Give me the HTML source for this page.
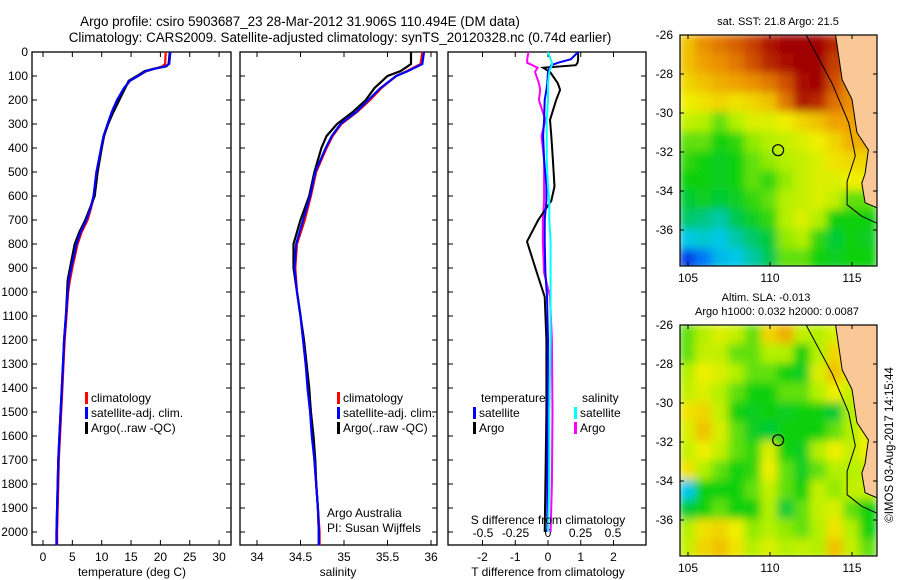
<!DOCTYPE html>
<html><head><meta charset="utf-8"><style>
body{margin:0;background:#fff}
svg{display:block;font-family:"Liberation Sans",sans-serif}
</style></head><body>
<svg id="c" width="900" height="580" viewBox="0 0 900 580" xmlns="http://www.w3.org/2000/svg">
<rect width="900" height="580" fill="#fff"/>
<text x="300" y="26" font-size="13.4" text-anchor="middle">Argo profile: csiro 5903687_23 28-Mar-2012 31.906S 110.494E (DM data)</text>
<text x="340" y="42" font-size="13.4" text-anchor="middle">Climatology: CARS2009. Satellite-adjusted climatology: synTS_20120328.nc (0.74d earlier)</text>
<g id="g"></g>
</svg>
<script>
// ---- data ----
const depthTicks=[0,100,200,300,400,500,600,700,800,900,1000,1100,1200,1300,1400,1500,1600,1700,1800,1900,2000];
const tDepths=[0,50,60,70,80,100,120,150,200,250,300,350,400,500,600,650,700,750,800,900,950,1000,1100,1200,1300,1400,1500,1600,1700,1800,1900,2000,2055];
const tClim=[20.9,20.8,20.3,19,17.6,16.2,14.8,13.9,12.8,11.8,11.0,10.4,10.0,9.3,8.7,8.2,7.6,6.6,5.9,5.0,4.6,4.3,4.0,3.7,3.5,3.3,3.1,2.9,2.7,2.6,2.5,2.4,2.4];
const tSat=[21.7,21.5,20.8,19,17.5,16.2,14.8,13.8,12.6,11.7,11.0,10.3,9.9,9.1,8.6,8.1,7.4,6.4,5.7,4.8,4.4,4.2,3.9,3.6,3.4,3.2,3.0,2.8,2.6,2.5,2.4,2.3,2.3];
const tArgo=[21.6,21.4,21.0,18.8,17.3,16.0,14.6,14.0,13.0,12.0,11.1,10.4,10.0,9.3,8.8,8.0,7.2,6.2,5.4,4.6,4.2,4.1,3.9,3.6,3.4,3.2,3.0,2.8,2.6,2.5,2.4,2.3,2.3];
const tTicks=[0,5,10,15,20,25,30];
const sDepths=[0,50,80,100,150,200,250,300,350,400,500,600,700,800,900,1000,1100,1200,1300,1400,1500,1600,1700,1800,1900,2000,2055];
const sClim=[35.9,35.88,35.72,35.6,35.43,35.3,35.15,34.97,34.87,34.8,34.68,34.62,34.55,34.46,34.44,34.46,34.5,34.53,34.56,34.59,34.62,34.64,34.66,34.68,34.7,34.72,34.72];
const sSat=[35.92,35.9,35.73,35.6,35.42,35.28,35.14,34.96,34.86,34.79,34.67,34.61,34.53,34.45,34.43,34.46,34.5,34.53,34.56,34.58,34.61,34.63,34.66,34.68,34.7,34.71,34.71];
const sArgo=[35.77,35.77,35.65,35.5,35.35,35.25,35.1,34.92,34.8,34.74,34.66,34.6,34.5,34.42,34.42,34.46,34.5,34.54,34.57,34.6,34.62,34.65,34.67,34.68,34.7,34.71,34.71];
const sTicks=[34,34.5,35,35.5,36];
const dDepths=[0,30,45,55,66,83,130,158,200,283,350,450,560,620,700,790,920,1020,1200,1500,1800,2000];
const tDiffArgo=[.92,.92,.9,.85,-.15,.06,.3,.37,.25,.06,.1,.15,.2,.1,-.3,-.64,-.34,-.1,-.05,-.05,-.08,-.1];
const tDiffSat=[.92,.7,.3,.1,.05,0,-.02,-.05,-.1,-.12,-.15,-.12,-.05,-.05,-.1,-.1,-.08,-.03,0,-.01,-.02,-.02];
const sDiffSat=[0,.02,.03,.03,.02,.01,0,0,0,-.01,-.01,-.01,0,.01,.01,.02,.02,.02,.02,.01,.01,0];
const sDiffArgo=[-.15,-.16,-.16,-.12,-.08,-.1,-.07,-.06,-.07,-.02,-.05,-.03,-.03,-.03,-.04,-.04,-.03,.015,.03,.035,.03,.02];
const tdTicks=[-2,-1,0,1,2];
const sdTicks=[-0.5,-0.25,0,0.25,0.5];
const sdTickLabels=["-0.5","-0.25","0","0.25","0.5"];
const latTicks=[-26,-28,-30,-32,-34,-36];
const lonTicks=[105,110,115];
const sstGrid=[
[.75,.82,.85,.88,.92,.97,1,1,1,.95,-1,-1],
[.75,.8,.82,.85,.9,.95,.98,1,1,.92,-1,-1],
[.72,.75,.78,.8,.82,.85,.9,.98,1,.9,.82,-1],
[.68,.7,.72,.7,.72,.75,.85,.97,.95,.86,.82,-1],
[.62,.6,.55,.6,.65,.65,.68,.72,.75,.8,.8,-1],
[.55,.55,.5,.52,.58,.6,.62,.65,.68,.72,.78,-1],
[.52,.5,.48,.5,.55,.58,.6,.62,.65,.7,.72,-1],
[.5,.5,.48,.5,.55,.52,.58,.62,.65,.65,.68,-1],
[.45,.48,.45,.48,.52,.55,.6,.62,.65,.62,.55,.55],
[.4,.38,.35,.42,.48,.52,.6,.65,.6,.5,.5,.5],
[.3,.32,.3,.35,.4,.45,.58,.6,.52,.45,.5,.48],
[.12,.2,.28,.3,.35,.42,.55,.55,.5,.48,.5,.5]];
const slaGrid=[
[.55,.6,.65,.62,.55,.72,.78,.62,.6,.65,.68,-1],
[.55,.62,.62,.55,.55,.6,.6,.5,.6,.72,.68,-1],
[.6,.68,.65,.6,.55,.55,.5,.48,.65,.75,.68,-1],
[.62,.65,.6,.55,.5,.5,.55,.55,.6,.68,.62,.68],
[.7,.72,.62,.5,.48,.5,.48,.5,.5,.45,.6,.68],
[.65,.75,.65,.55,.48,.45,.5,.5,.5,.55,.6,.68],
[.62,.68,.62,.55,.52,.65,.5,.48,.6,.68,.62,.68],
[.7,.6,.55,.5,.52,.68,.55,.48,.55,.6,.6,.62],
[.3,.5,.5,.5,.55,.62,.55,.5,.62,.58,.62,.62],
[.45,.5,.55,.5,.5,.6,.45,.55,.62,.65,.55,.5],
[.6,.7,.72,.68,.58,.6,.58,.55,.6,.7,.6,.5],
[.62,.72,.75,.7,.6,.65,.6,.62,.6,.75,.62,.55]];
const landLon=[114.0,114.4,115.0,115.3,116.0,115.8,115.6,115.8,116.9];
const landLat=[-26,-28.3,-29.3,-31,-31.9,-33.1,-33.6,-34.6,-35];
const shelfLon=[112.2,113.8,114.8,115.2,114.7,114.7,115.6,116.9];
const shelfLat=[-26,-28.5,-30.5,-32.2,-33.5,-34.7,-35.3,-35.8];
const argoLon=110.494, argoLat=-31.906;

// ---- helpers ----
const NS="http://www.w3.org/2000/svg", G=document.getElementById('g');
function el(t,a,p){const e=document.createElementNS(NS,t);for(const k in a)e.setAttribute(k,a[k]);(p||G).appendChild(e);return e;}
const yD=d=>52+d*0.24;
const P1={x0:32,x1:231}, P2={x0:240,x1:437}, P3={x0:448,x1:646}, PT=52, PB=545;
const xT=v=>43+v*5.87, xS=v=>257+(v-34)*87, xTD=v=>548+v*32.75, xSD=v=>548+v*130;

function frame(P,name){
  const r=el('rect',{x:P.x0,y:PT,width:P.x1-P.x0,height:PB-PT,fill:'none',stroke:'#000','stroke-width':1.3});
  
  
}
function profile(xs,ys,fx,color,name,w){
  let d='';xs.forEach((v,i)=>{d+=(i?'L':'M')+fx(v).toFixed(1)+','+yD(ys[i]).toFixed(1);});
  const p=el('path',{d:d,fill:'none',stroke:color,'stroke-width':w||2.2,'stroke-linejoin':'miter'});
  
  
}
function txt(x,y,s,size,anchor,name,extra){
  const t=el('text',Object.assign({x:x,y:y,'font-size':size,'text-anchor':anchor||'start'},extra||{}));
  t.textContent=s;
  
  
  return t;
}
function xticks(P,vals,fx,labels,name){
  vals.forEach((v,i)=>{const x=fx(v);
    el('line',{x1:x,x2:x,y1:PB,y2:PB-5,stroke:'#000'});
    el('line',{x1:x,x2:x,y1:PT,y2:PT+5,stroke:'#000'});
    txt(x,561,labels?labels[i]:String(v),12,'middle',name);
  });
}
function yticks(P){
  depthTicks.forEach(d=>{const y=yD(d);
    el('line',{x1:P.x0,x2:P.x0+5,y1:y,y2:y,stroke:'#000'});
    el('line',{x1:P.x1,x2:P.x1-5,y1:y,y2:y,stroke:'#000'});
  });
}
// panel 1
frame(P1,'temperature-panel'); yticks(P1);
depthTicks.forEach(d=>txt(28,yD(d)+4,String(d),12,'end','depth-tick-label'));
xticks(P1,tTicks,xT,null,'temperature-tick-label');
profile(tClim,tDepths,xT,'#f00','temperature-climatology-line');
profile(tArgo,tDepths,xT,'#000','temperature-argo-line');
profile(tSat,tDepths,xT,'#00f','temperature-satellite-line');
txt(132,576,'temperature (deg C)',12,'middle','temperature-axis-title');
// panel 2
frame(P2,'salinity-panel'); yticks(P2);
xticks(P2,sTicks,xS,["34","34.5","35","35.5","36"],'salinity-tick-label');
profile(sClim,sDepths,xS,'#f00','salinity-climatology-line');
profile(sArgo,sDepths,xS,'#000','salinity-argo-line');
profile(sSat,sDepths,xS,'#00f','salinity-satellite-line');
txt(338,576,'salinity',12,'middle','salinity-axis-title');
// panel 3
frame(P3,'difference-panel'); yticks(P3);
xticks(P3,tdTicks,xTD,null,'t-diff-tick-label');
sdTicks.forEach((v,i)=>{txt(xSD(v),537,sdTickLabels[i],12,'middle','s-diff-tick-label');});
profile(sDiffArgo,dDepths,xSD,'#f0f','salinity-argo-diff-line',2);
profile(tDiffArgo,dDepths,xTD,'#000','temperature-argo-diff-line',2);
profile(tDiffSat,dDepths,xTD,'#00f','temperature-satellite-diff-line',2);
profile(sDiffSat,dDepths,xSD,'#0ff','salinity-satellite-diff-line',2);
txt(548,524,'S difference from climatology',12,'middle','s-diff-axis-title');
txt(548,576,'T difference from climatology',12,'middle','t-diff-axis-title');
// legends
function leg(x,y,c,s){el('rect',{x:x,y:y-10,width:3,height:12,fill:c});txt(x+6,y,s,12,'start','legend-entry');}
leg(85,402,'#f00','climatology');leg(85,417,'#00f','satellite-adj. clim.');leg(85,432,'#000','Argo(..raw -QC)');
leg(337,402,'#f00','climatology');leg(337,417,'#00f','satellite-adj. clim.');leg(337,432,'#000','Argo(..raw -QC)');
txt(481,402,'temperature',12,'start','legend-title');txt(582,402,'salinity',12,'start','legend-title');
leg(473,417,'#00f','satellite');leg(473,432,'#000','Argo');leg(574,417,'#0ff','satellite');leg(574,432,'#f0f','Argo');
txt(327,517,'Argo Australia',12,'start','credit-text');txt(327,532,'PI: Susan Wijffels',12,'start','credit-text');

// ---- maps ----
const stops=[[0,[0,0,128]],[.15,[0,80,255]],[.3,[0,200,230]],[.42,[0,200,80]],[.5,[16,208,16]],[.6,[180,240,0]],[.68,[240,240,0]],[.8,[240,160,0]],[.9,[208,80,0]],[1,[160,0,0]]];
function cmap(v){for(let i=1;i<stops.length;i++){if(v<=stops[i][0]){const a=stops[i-1],b=stops[i],f=(v-a[0])/(b[0]-a[0]);return 'rgb('+a[1].map((c,k)=>Math.round(c+(b[1][k]-c)*f)).join(',')+')';}}return 'rgb(160,0,0)';}
const defs=el('defs',{});
const fl=el('filter',{id:'bl',x:'-5%',y:'-5%',width:'110%',height:'110%'},defs);el('feGaussianBlur',{stdDeviation:4.5},fl);
function map(top,grid,name){
  const X0=680,X1=877,Y1=top+231;
  const xL=lon=>688+(lon-105)*16.4, yL=lat=>top+(-26-lat)*19.5;
  const cp=el('clipPath',{id:'cp'+top},defs);el('rect',{x:X0,y:top,width:X1-X0,height:Y1-top},cp);
  const outer=el('g',{'clip-path':'url(#cp'+top+')'});
  
  
  const g=el('g',{filter:'url(#bl)'},outer);
  grid.forEach((row,r)=>row.forEach((v,c)=>{
    const val=v<0?(row[c-1]>=0?row[c-1]:0.7):v;
    const cell=el('rect',{x:xL(104.5+c)-1,y:yL(-26-r)-1,width:18.4,height:21.5,fill:cmap(val)},g);
    
    
  }));
  let d='M'+xL(landLon[0])+','+(top-2);
  landLon.forEach((v,i)=>{d+='L'+xL(v).toFixed(1)+','+yL(landLat[i]).toFixed(1);});
  d+='L'+(X1+2)+','+yL(-35)+'L'+(X1+2)+','+(top-2)+'Z';
  const land=el('path',{d:d,fill:'#f9c896',stroke:'#000','stroke-width':1},outer);
  
  
  let s='';shelfLon.forEach((v,i)=>{s+=(i?'L':'M')+xL(v).toFixed(1)+','+yL(shelfLat[i]).toFixed(1);});
  const sh=el('path',{d:s,fill:'none',stroke:'#000','stroke-width':1},outer);
  
  
  const ci=el('circle',{cx:xL(argoLon),cy:yL(argoLat),r:5.5,fill:'none',stroke:'#000','stroke-width':1.2});
  
  
  const fr=el('rect',{x:X0,y:top,width:X1-X0,height:Y1-top,fill:'none',stroke:'#000','stroke-width':1.2});
  
  
  latTicks.forEach(l=>{const y=yL(l);el('line',{x1:X0,x2:X0+4,y1:y,y2:y,stroke:'#000'});el('line',{x1:X1,x2:X1-4,y1:y,y2:y,stroke:'#000'});txt(673,y+4,String(l),12,'end','latitude-tick-label');});
  lonTicks.forEach(l=>{const x=xL(l);el('line',{x1:x,x2:x,y1:Y1,y2:Y1-4,stroke:'#000'});el('line',{x1:x,x2:x,y1:top,y2:top+4,stroke:'#000'});txt(x,Y1+16,String(l),12,'middle','longitude-tick-label');});
}
map(35,sstGrid,'sst-map');
map(325,slaGrid,'sla-map');
txt(778,25,'sat. SST: 21.8 Argo: 21.5',11,'middle','sst-map-title');
txt(766,301,'Altim. SLA: -0.013',11,'middle','sla-map-title');
txt(777,315,'Argo h1000: 0.032 h2000: 0.0087',11,'middle','sla-map-subtitle');
txt(0,0,'\u00a9IMOS 03-Aug-2017 14:15:44',11.5,'middle','imos-timestamp',{transform:'translate(893,445) rotate(-90)'});
</script>
</body></html>
